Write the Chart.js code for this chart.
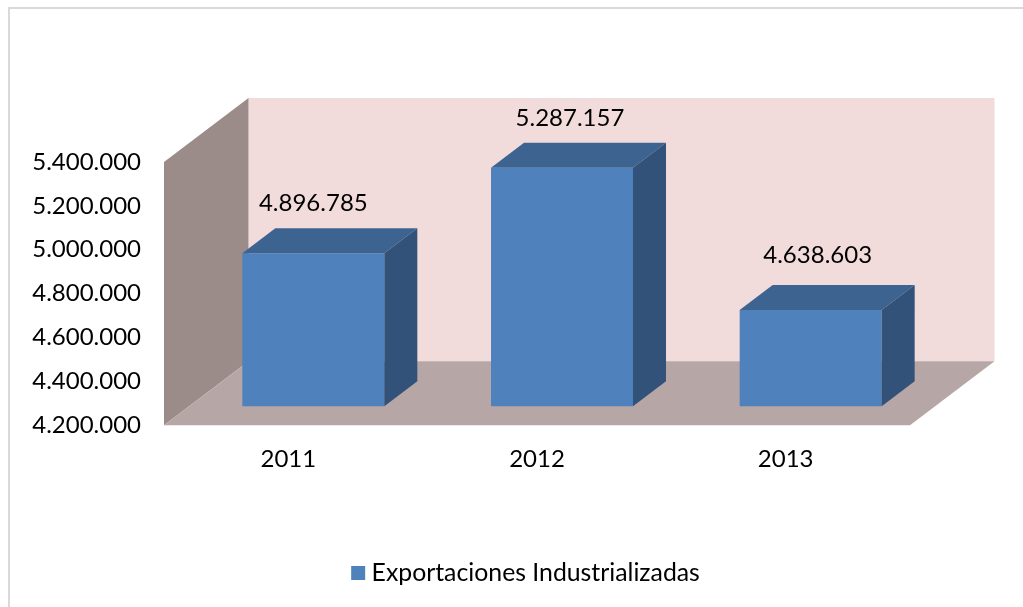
<!DOCTYPE html>
<html>
<head>
<meta charset="utf-8">
<style>
  html, body { margin: 0; background: #fff; overflow: hidden; }
  #frame { position: absolute; left: 8px; top: 7px; width: 1100px; height: 700px; border: 2px solid #d9d9d9; }
  canvas { position: absolute; left: 0; top: 0; }
</style>
<script src="https://cdn.jsdelivr.net/npm/chart.js@4"></script>
</head>
<body>
<div id="frame"></div>
<canvas id="chart" width="1023" height="607"></canvas>
<script>
const years = ['2011', '2012', '2013'];
const exportaciones = [4896785, 5287157, 4638603];
const seriesName = 'Exportaciones Industrializadas';
const axisMin = 4200000;
const axisMax = 5400000;
const axisStep = 200000;

// looks of the fake 3D box
const wallDepth = { x: 84.5, y: 64 };
const barShift = { x: 25, y: 19 };
const barDepth = { x: 33, y: 25 };
const labelNudge = [[0, -50], [8, -49], [7, -55]];

const fontName = 'Lato';
const fontSize = 24;

const formatNumber = v => String(v).replace(/\B(?=(\d{3})+$)/g, '.');

function poly(ctx, color, pts) {
  ctx.fillStyle = color;
  ctx.beginPath();
  pts.forEach((p, i) => i ? ctx.lineTo(p[0], p[1]) : ctx.moveTo(p[0], p[1]));
  ctx.closePath();
  ctx.fill();
}

const box3d = {
  id: 'box3d',
  afterLayout(chart) {
    // legend sits off-centre in the original
    const lg = chart.legend;
    const w = lg.right - lg.left;
    const h = lg.bottom - lg.top;
    lg.left = 528.5 - w / 2;
    lg.right = lg.left + w;
    lg.top = 568 - h / 2;
    lg.bottom = lg.top + h;
  },
  beforeDatasetsDraw(chart) {
    const { ctx, chartArea: a } = chart;
    const d = wallDepth;
    poly(ctx, '#f2dcdb', [[a.left + d.x, a.top - d.y], [a.right + d.x, a.top - d.y], [a.right + d.x, a.bottom - d.y], [a.left + d.x, a.bottom - d.y]]);
    poly(ctx, '#9b8b89', [[a.left, a.top], [a.left + d.x, a.top - d.y], [a.left + d.x, a.bottom - d.y], [a.left, a.bottom]]);
    poly(ctx, '#b6a6a5', [[a.left, a.bottom], [a.left + d.x, a.bottom - d.y], [a.right + d.x, a.bottom - d.y], [a.right, a.bottom]]);
  },
  beforeDatasetDraw(chart) {
    chart.ctx.save();
    chart.ctx.translate(barShift.x, -barShift.y);
  },
  afterDatasetDraw(chart) {
    chart.ctx.restore();
  },
  afterDatasetsDraw(chart) {
    const { ctx } = chart;
    const d = barDepth;
    chart.getDatasetMeta(0).data.forEach((bar, i) => {
      const l = bar.x - bar.width / 2 + barShift.x;
      const r = bar.x + bar.width / 2 + barShift.x;
      const t = bar.y - barShift.y;
      const b = bar.base - barShift.y;
      poly(ctx, '#3d6391', [[l, t], [l + d.x, t - d.y], [r + d.x, t - d.y], [r, t]]);
      poly(ctx, '#325279', [[r, t], [r + d.x, t - d.y], [r + d.x, b - d.y], [r, b]]);

      ctx.fillStyle = '#000';
      ctx.font = fontSize + 'px ' + fontName;
      ctx.textAlign = 'center';
      ctx.textBaseline = 'middle';
      ctx.fillText(formatNumber(exportaciones[i]), (l + r) / 2 + labelNudge[i][0], t + labelNudge[i][1]);
    });
  }
};

Chart.defaults.font.family = fontName;
Chart.defaults.font.size = fontSize;
Chart.defaults.color = '#000';

new Chart(document.getElementById('chart'), {
  type: 'bar',
  data: {
    labels: years,
    datasets: [{
      label: seriesName,
      data: exportaciones,
      base: axisMin,
      backgroundColor: '#4f81bd',
      borderWidth: 0,
      categoryPercentage: 1,
      barPercentage: 0.571,
      clip: false
    }]
  },
  options: {
    responsive: false,
    animation: false,
    layout: { padding: { top: 162, right: 113, left: 0, bottom: 0 } },
    scales: {
      x: {
        grid: { display: false },
        border: { display: false },
        ticks: { padding: 12 },
        afterFit: s => { s.height = 127; }
      },
      y: {
        min: axisMin,
        max: axisMax,
        grid: { display: false },
        border: { display: false },
        ticks: { stepSize: axisStep, padding: 15, callback: v => formatNumber(v) },
        afterFit: s => { s.width = 164; }
      }
    },
    plugins: {
      tooltip: { enabled: false },
      legend: {
        position: 'bottom',
        labels: {
          boxWidth: 2,
          boxHeight: 2,
          padding: 20,
          font: { size: 24.8 },
          // thick stroke on a tiny box keeps the square close to the text
          generateLabels: chart => [{
            text: seriesName,
            fillStyle: '#4f81bd',
            strokeStyle: '#4f81bd',
            lineWidth: 12,
            datasetIndex: 0
          }]
        }
      }
    }
  },
  plugins: [box3d]
});
</script>
</body>
</html>
